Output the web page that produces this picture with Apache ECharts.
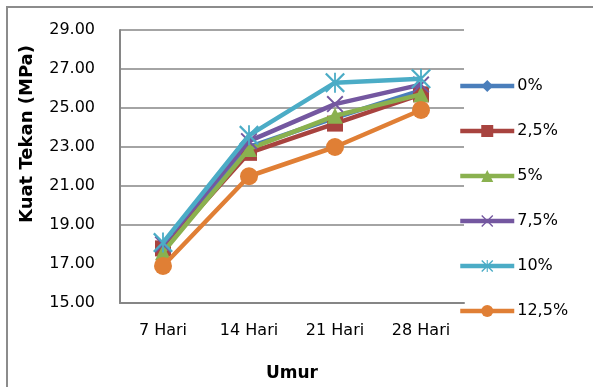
<!DOCTYPE html>
<html>
<head>
<meta charset="utf-8">
<script src="https://cdn.jsdelivr.net/npm/echarts@6/dist/echarts.min.js"></script>
<style>
  html, body { margin: 0; padding: 0; background: #fff; }
  #chart { width: 593px; height: 387px; }
</style>
</head>
<body>
<div id="chart"></div>
<script>
// Compressive strength (MPa) by curing age for each replacement level
const categories = ['7 Hari', '14 Hari', '21 Hari', '28 Hari'];
const seriesNames = ['0%', '2,5%', '5%', '7,5%', '10%', '12,5%'];
const s0 = [17.7, 23.0, 24.5, 25.9];
const s25 = [17.8, 22.7, 24.2, 25.7];
const s5 = [17.6, 22.9, 24.6, 25.7];
const s75 = [18.0, 23.3, 25.2, 26.2];
const s10 = [18.1, 23.6, 26.3, 26.5];
const s125 = [16.9, 21.5, 23.0, 24.9];
const yTicks = [15, 17, 19, 21, 23, 25, 27, 29];

const colors = ['#4A7EBB', '#A8433F', '#8AB14F', '#7457A0', '#4BACC6', '#E07F35'];

// Marker outlines: an "x" and a six-armed asterisk built from thin bars
const crossPath = 'path://M0,0.8L0.8,0L10,9.2L9.2,10Z M9.2,0L10,0.8L0.8,10L0,9.2Z';
const starPath = 'path://M0,0.8L0.8,0L10,9.2L9.2,10Z M9.2,0L10,0.8L0.8,10L0,9.2Z M4.55,0L5.45,0L5.45,10L4.55,10Z';

const markers = [
  { symbol: 'diamond', size: 11 },
  { symbol: 'rect', size: 16 },
  { symbol: 'triangle', size: 16 },
  { symbol: crossPath, size: 17 },
  { symbol: starPath, size: 20 },
  { symbol: 'circle', size: 18 }
];
const values = [s0, s25, s5, s75, s10, s125];

const font = 'DejaVu Sans';
const gridGrey = '#868686';

const chart = echarts.init(document.getElementById('chart'), null, { renderer: 'canvas' });

chart.setOption({
  animation: false,
  color: colors,
  grid: { left: 120, right: 129, top: 30, bottom: 82, containLabel: false },
  xAxis: {
    type: 'category',
    data: categories,
    boundaryGap: true,
    name: 'Umur',
    nameLocation: 'middle',
    nameGap: 62,
    nameTextStyle: { fontFamily: font, fontSize: 17, fontWeight: 'bold', color: '#000' },
    axisLine: { lineStyle: { color: gridGrey, width: 2 } },
    axisTick: { show: false },
    axisLabel: { fontFamily: font, fontSize: 16, color: '#000', margin: 20 }
  },
  yAxis: {
    type: 'value',
    min: yTicks[0],
    max: yTicks[yTicks.length - 1],
    interval: 2,
    axisLine: { show: true, lineStyle: { color: gridGrey, width: 2 } },
    axisTick: { show: false },
    axisLabel: {
      fontFamily: font, fontSize: 16, color: '#000', margin: 25,
      formatter: v => v.toFixed(2)
    },
    splitLine: {
      show: true,
      // one colour per tick; the 17.00 line is left blank
      lineStyle: {
        color: yTicks.map(v => (v === 17 ? 'rgba(0,0,0,0)' : gridGrey)),
        width: 1.5
      }
    }
  },
  legend: {
    orient: 'vertical',
    left: 453,
    top: 73,
    itemWidth: 54,
    itemHeight: 15,
    itemGap: 29,
    lineStyle: { width: 4.5 },
    textStyle: { fontFamily: font, fontSize: 16, color: '#000', padding: [0, 0, 0, -2] },
    data: seriesNames
  },
  graphic: [
    {
      type: 'rect',
      shape: { x: 7, y: 7, width: 700, height: 500 },
      style: { fill: 'none', stroke: '#8c8c8c', lineWidth: 2 },
      silent: true
    },
    {
      type: 'text',
      x: 27, y: 134,
      rotation: Math.PI / 2,
      style: {
        text: 'Kuat Tekan (MPa)',
        font: 'bold 18px "DejaVu Sans"',
        fill: '#000',
        align: 'center',
        verticalAlign: 'middle'
      }
    }
  ],
  series: seriesNames.map((name, i) => ({
    name,
    type: 'line',
    data: values[i],
    symbol: markers[i].symbol,
    symbolSize: markers[i].size,
    showAllSymbol: true,
    lineStyle: { width: 4.5, color: colors[i] },
    itemStyle: { color: colors[i] },
    z: 2 + i
  }))
});
</script>
</body>
</html>
